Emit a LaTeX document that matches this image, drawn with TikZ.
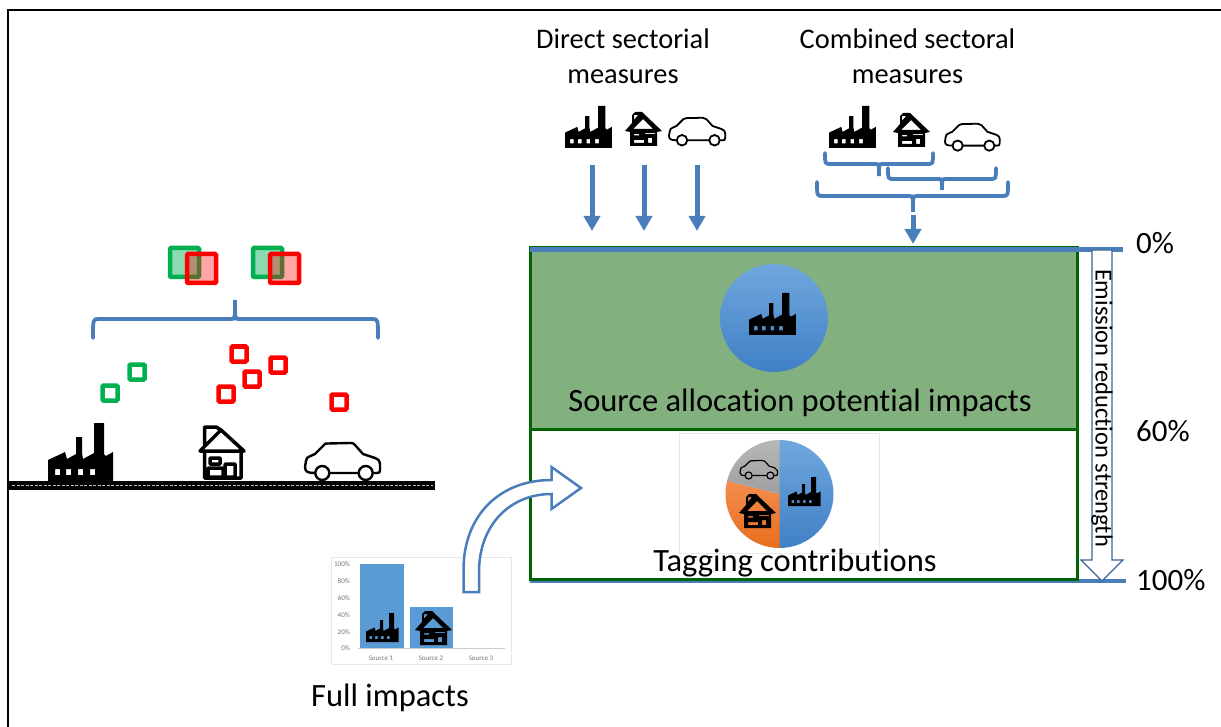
\documentclass[tikz,border=0pt]{standalone}
\usepackage{fontspec}
\setmainfont{Carlito}[Ligatures=NoCommon]
\usetikzlibrary{arrows.meta}
\definecolor{bluel}{RGB}{74,126,187}
\definecolor{greenf}{RGB}{130,177,127}
\definecolor{greend}{RGB}{0,100,0}
\definecolor{greens}{RGB}{0,176,80}
\definecolor{barblue}{RGB}{91,155,213}
\definecolor{shadetop}{RGB}{112,167,222}
\definecolor{shadebot}{RGB}{64,128,198}
\definecolor{oratop}{RGB}{244,140,78}
\definecolor{orabot}{RGB}{232,110,28}
\tikzset{
  factoryicon/.pic={\fill[even odd rule] (0,58) -- (0,37) -- (17,29) -- (19,36) -- (28,31) -- (28,14) -- (34,14) -- (34,30) -- (35,36) -- (46,30) -- (46,0) -- (56,0) -- (56,31) -- (58,33) -- (65,29) -- (65,58) -- cycle
    (7,46) rectangle (12,52) (18,46) rectangle (23,52) (30,46) rectangle (35,52) (42,46) rectangle (47,52);},
  housesolid/.pic={\fill[even odd rule] (10,0) -- (17,0) -- (37,19) -- (32,20) -- (32,34) -- (5,34) -- (5,20) -- (0,19) -- (7,11) -- (7,3) -- cycle
    (18,7) -- (8,17) -- (28,17) -- cycle (9,3) -- (13,3) -- (9,8) -- cycle (9,28) rectangle (19,31) (23,26) rectangle (27,31) (9,22) rectangle (14,23.5) (20,21) rectangle (30,22);},
  houseline/.pic={\draw[line width=3.5,line join=round] (1,25) -- (22,4) -- (45,25) -- cycle (5.5,20) -- (5.5,1) -- (17,1) -- (22,4) (5.5,25) -- (5.5,52) -- (42,52) -- (42,25) (11,32) rectangle (21,38) (9,42) rectangle (24,51) (26,38) rectangle (36,51);},
  caricon/.pic={\draw[line join=round] (10,31) .. controls (3,31) and (0,30) .. (0,25) -- (1,19) .. controls (1,16) .. (10,12) -- (19,3) .. controls (20,1.5) .. (23,1.5) -- (45,1) .. controls (48,1) .. (50,3) -- (58,12) -- (70,16) .. controls (74,18) .. (75,22) -- (75,27) .. controls (75,31) .. (68,31);
    \draw (24,31) -- (54,31) (17.3,31) circle [radius=7] (60.7,31) circle [radius=7];},
  labeltxt/.style={font=\fontsize{32.5}{39}\selectfont,inner sep=0,align=center},
  headtxt/.style={font=\fontsize{28.4}{35}\selectfont,inner sep=0,align=center},
  pcttxt/.style={font=\fontsize{31}{36}\selectfont,inner sep=0,anchor=west},
  charttxt/.style={font=\fontsize{7}{8}\selectfont,inner sep=0,text=black!55},
  bracedraw/.style={draw=bluel,line width=3.8,line cap=round},
  measarrow/.style={draw=bluel,line width=5,-{Triangle[length=15,width=16]}},
  greensq/.style={draw=greens,line width=4.5,rounded corners=1},
  redsq/.style={draw=red,line width=4.5,rounded corners=1}
}
\newcommand{\sectorbrace}[6]{\draw[bracedraw] (#1,#4) .. controls (#1,#5) .. (#1+6,#5) -- (#3-4,#5) .. controls (#3,#5) .. (#3,#6) .. controls (#3,#5) .. (#3+4,#5) -- (#2-6,#5) .. controls (#2,#5) .. (#2,#4);}
\begin{document}
\begin{tikzpicture}[x=1pt,y=-1pt]
\useasboundingbox (0,0) rectangle (1221,727);
\draw [line width=2] (8,727) -- (8,10) -- (1221,10);

% left part
\draw [line width=9] (9,485) -- (435,485);
\draw [white!75!black, line width=0.8, dash pattern=on 3 off 1.5] (12,485) -- (433,485);
\path (48,423) pic {factoryicon};
\path (199,426) pic {houseline};
\path (305,442) pic [line width=2.4] {caricon};
\foreach \x/\y in {137/372,110/393} {\draw [greensq] (\x-7.5,\y-7.5) rectangle ++(15,15);}
\foreach \x/\y in {239/354,278/365,252/379,226/394,339/402} {\draw [redsq] (\x-7.5,\y-7.5) rectangle ++(15,15);}
\sectorbrace{93}{378}{235}{338}{319}{300}
\foreach \x in {170,253} {\draw [greensq,fill=greens,fill opacity=0.45] (\x,248) rectangle ++(29,29);}
\foreach \x in {187,270} {\draw [redsq,fill=red,fill opacity=0.35] (\x,254) rectangle ++(29,29);}

% boxes
\fill [greenf] (530,248) rectangle (1077,429);
\draw [bluel, line width=3.5] (530,581) -- (1126,581);
\draw [greend, line width=3] (530,429) rectangle (1077,579);
\draw [greend, line width=3] (530,248) rectangle (1077,429);
\draw [bluel, line width=5] (530,250) -- (1123,250);
\shade [top color=shadetop, bottom color=shadebot] (774,318) circle [radius=54];
\path (749,293) pic [scale=0.72] {factoryicon};
\node [labeltxt] (source) at (800,403) {Source allocation potential impacts};

% pie
\draw [black!9, line width=0.7] (679,433) rectangle (879.5,553);
\coordinate (piec) at (779.5,494);
\shade [top color=shadetop, bottom color=shadebot] (piec) -- +(90:54pt) arc [start angle=90, end angle=-90, radius=54pt] -- cycle;
\shade [top color=oratop, bottom color=orabot] (piec) -- +(166:54pt) arc [start angle=166, end angle=270, radius=54pt] -- cycle;
\shade [top color=black!28, bottom color=black!38] (piec) -- +(90:54pt) arc [start angle=90, end angle=166, radius=54pt] -- cycle;
\path (788,477) pic [scale=0.5] {factoryicon};
\path (739,494) pic {housesolid};
\path (740,460) pic [scale=0.5, line width=1.2] {caricon};
\node [labeltxt] (tagging) at (795,563) {Tagging contributions};

% emission arrow
\draw [draw=bluel!80!black, fill=white, line width=1.2] (1092,250) -- (1112,250) -- (1112,560) -- (1123,560) -- (1102,581) -- (1081,560) -- (1092,560) -- cycle;
\node [font=\fontsize{24.5}{28}\selectfont, inner sep=0, rotate=-90] (emission) at (1102,408) {Emission reduction strength};
\node [pcttxt] (p0) at (1136,243) {0\%};
\node [pcttxt] (p60) at (1136,431) {60\%};
\node [pcttxt] (p100) at (1136,580) {100\%};

% sectorial measures
\node [headtxt] (direct) at (623,56) {Direct sectorial\\measures};
\node [headtxt] (combined) at (907.5,56) {Combined sectoral\\measures};
\path (565,106) pic [scale=0.72] {factoryicon};
\path (625,112) pic {housesolid};
\path (669,117) pic [scale=0.75, line width=1.8] {caricon};
\path (829,106) pic [scale=0.72] {factoryicon};
\path (893,113) pic {housesolid};
\path (945,123) pic [scale=0.73, line width=1.8] {caricon};
\foreach \n/\x in {a/592,b/644,c/697} {
  \coordinate (top\n) at (\x,165);
  \coordinate (end\n) at (\x,231);
  \draw [measarrow] (top\n) -- (end\n);
}
\sectorbrace{825}{933}{879}{153}{164}{176}
\sectorbrace{888}{996}{942}{168}{179}{190}
\sectorbrace{817}{1008}{913}{182}{196}{212}
\coordinate (topd) at (913,215);
\coordinate (endd) at (913,244);
\draw [measarrow] (topd) -- (endd);

% bar chart
\draw [black!9, line width=0.7] (331.5,557) rectangle (511,664);
\fill [barblue] (360,564) rectangle (403.5,648);
\fill [barblue] (410,607) rectangle (453,648);
\draw [black!20, line width=0.6] (358,648.5) -- (505,648.5);
\foreach \y/\p in {564.5/100,581.5/80,598.5/60,615/40,632/20,648.5/0} {\node [charttxt, anchor=east] at (350,\y) {\p\%};}
\foreach \x/\k in {381/1,431/2,481/3} {\node [charttxt] at (\x,658) {Source \k};}
\path (366,613) pic [scale=0.5] {factoryicon};
\path (415,611) pic {housesolid};
\node [labeltxt] (full) at (390,698) {Full impacts};

% curved arrow
\draw [bluel, fill=white, line width=2.5, line join=miter] (463.5,592) -- (463.5,570) .. controls (463.5,515) and (500,480) .. (551.5,480) -- (551.5,467) -- (581,488) -- (551.5,509) -- (551.5,494) .. controls (510,494) and (479,525) .. (479,572) -- (479,592) -- cycle;
\end{tikzpicture}
\end{document}
